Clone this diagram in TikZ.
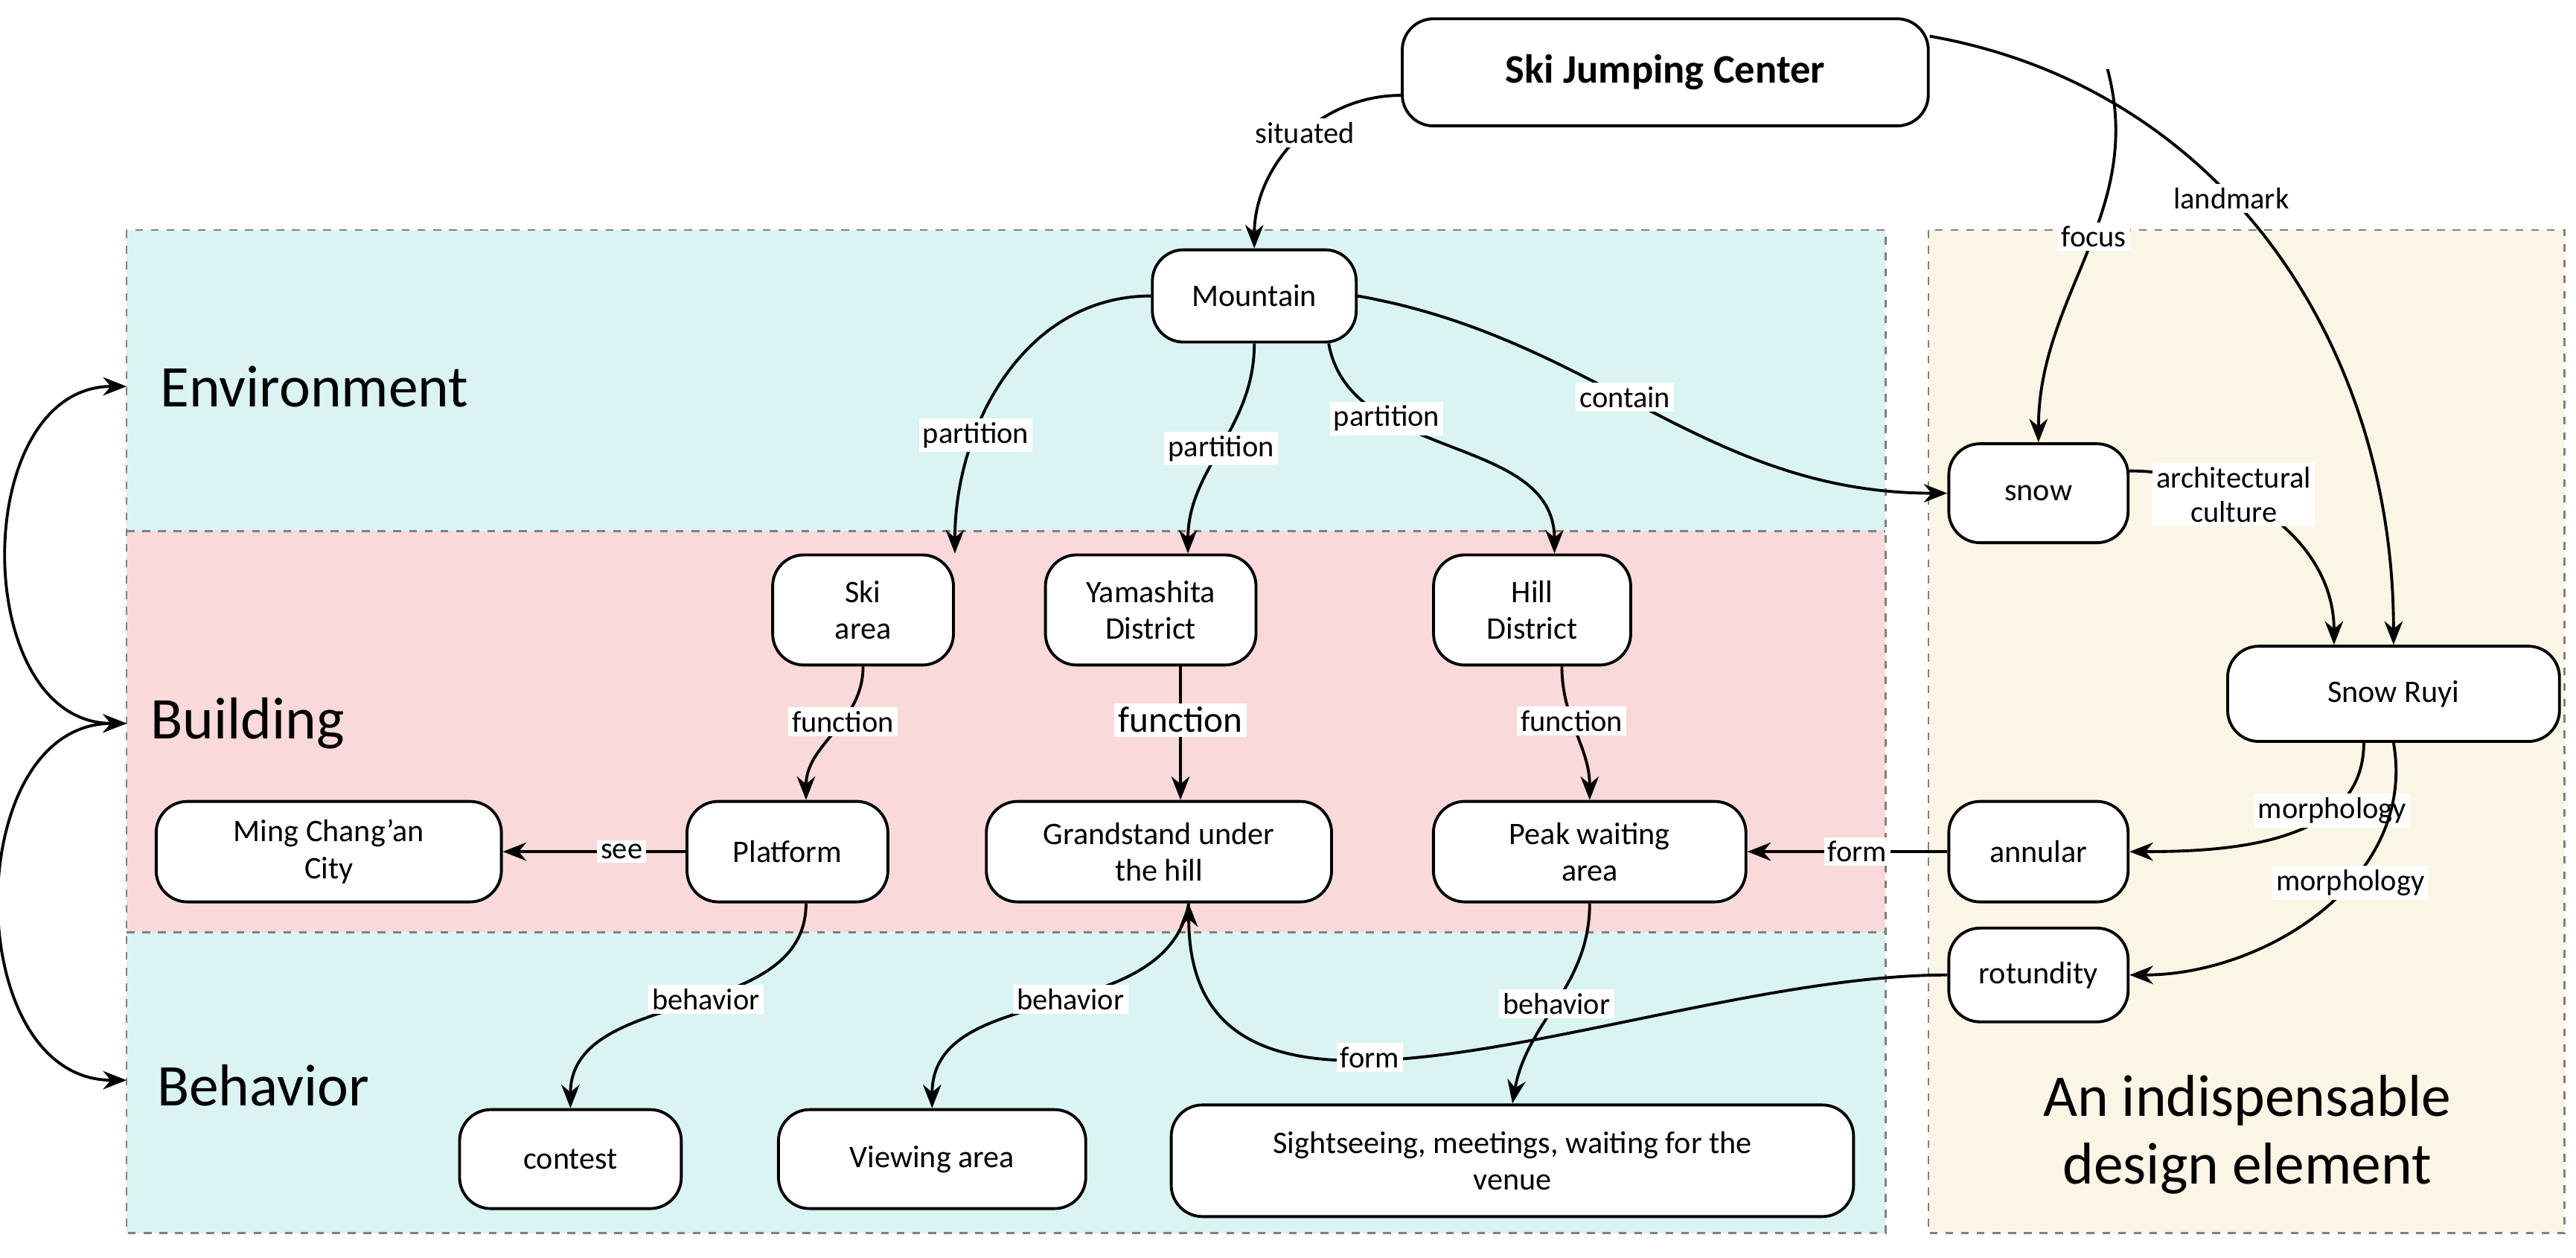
\documentclass[tikz,border=0pt]{standalone}
\usepackage{fontspec}
\setmainfont{Carlito}
\usetikzlibrary{arrows.meta}
\definecolor{cy}{RGB}{218,243,243}
\definecolor{pk}{RGB}{249,217,217}
\definecolor{bg}{RGB}{251,245,230}
\begin{document}
\begin{tikzpicture}[x=0.0221cm,y=-0.0221cm,
 box/.style={draw,line width=1.1pt,rounded corners=0.42cm,fill=white,align=center,font=\fontsize{12}{14}\selectfont,inner sep=1pt},
 lab/.style={fill=white,inner sep=1.5pt,font=\fontsize{11.5}{13}\selectfont,align=center},
 ar/.style={-{Stealth[length=9pt,width=7pt]},line width=1.1pt},
 band/.style={draw=gray,dashed,line width=0.7pt},
 big/.style={font=\fontsize{22.6}{26}\selectfont,align=center}]
\useasboundingbox (0,0) rectangle (1567,765);
\fill[white] (0,0) rectangle (1567,765);
\fill[cy] (77,140) rectangle (1147,323);
\fill[pk] (77,323) rectangle (1147,567);
\fill[cy] (77,567) rectangle (1147,750);
\fill[bg] (1173,140) rectangle (1560,750);
\draw[band] (77,140) rectangle (1147,750);
\draw[band] (77,323) -- (1147,323) (77,567) -- (1147,567);
\draw[band] (1173,140) rectangle (1560,750);
\node[big,anchor=west] (tenv) at (92,235) {Environment};
\node[big,anchor=west] (tbld) at (86,440) {Building};
\node[big,anchor=west] (tbeh) at (90,660) {Behavior};
\node[big] (tdes) at (1367,690) {An indispensable\\design element};
\coordinate (e1) at (77,235);
\coordinate (b1) at (77,440);
\coordinate (h1) at (77,657);
\node[box,minimum width=7.07cm,minimum height=1.44cm,font=\fontsize{15.5}{17}\selectfont\bfseries] (sjc) at (1013,44) {Ski Jumping Center};
\node[box,minimum width=2.74cm,minimum height=1.24cm] (mtn) at (763,180) {Mountain};
\node[box,minimum width=2.43cm,minimum height=1.48cm] (ski) at (525,371) {Ski\\area};
\node[box,minimum width=2.83cm,minimum height=1.48cm] (yam) at (700,371) {Yamashita\\District};
\node[box,minimum width=2.65cm,minimum height=1.48cm] (hill) at (932,371) {Hill\\District};
\node[box,minimum width=4.64cm,minimum height=1.35cm] (ming) at (200,518) {Ming Chang'an\\City};
\node[box,minimum width=2.70cm,minimum height=1.35cm] (plat) at (479,518) {Platform};
\node[box,minimum width=4.64cm,minimum height=1.35cm] (grand) at (705,518) {Grandstand under\\the hill};
\node[box,minimum width=4.20cm,minimum height=1.35cm] (peak) at (967,518) {Peak waiting\\area};
\node[box,minimum width=2.41cm,minimum height=1.33cm] (snow) at (1240,300) {snow};
\node[box,minimum width=4.46cm,minimum height=1.28cm] (ruyi) at (1456,422) {Snow Ruyi};
\node[box,minimum width=2.41cm,minimum height=1.35cm] (ann) at (1240,518) {annular};
\node[box,minimum width=2.41cm,minimum height=1.26cm] (rot) at (1240,593) {rotundity};
\node[box,minimum width=2.98cm,minimum height=1.33cm] (cont) at (347,705) {contest};
\node[box,minimum width=4.13cm,minimum height=1.33cm] (view) at (567,705) {Viewing area};
\node[box,minimum width=9.17cm,minimum height=1.50cm] (sight) at (920,706) {Sightseeing, meetings, waiting for the\\venue};
% edges
\draw[ar] (sjc.west|-0,58) to[out=180,in=90] node[lab,pos=0.45]{situated} (mtn.north);
\draw[ar] (sjc.east|-0,22) to[out=-10,in=90] node[lab,pos=0.42]{landmark} (ruyi.north);
\draw[ar] (1282,42) to[out=-75,in=90] node[lab,pos=0.45]{focus} (snow.north);
\draw[ar] (mtn.west) to[out=180,in=90] node[lab,pos=0.68]{partition} (ski.north east);
\draw[ar] (mtn.south) to[out=-90,in=90] node[lab,pos=0.5]{partition} ([xshift=0.5cm]yam.north);
\draw[ar] ([xshift=1.0cm]mtn.south) to[out=-80,in=90] node[lab,pos=0.3]{partition} ([xshift=0.3cm]hill.north);
\draw[ar] (mtn.east) to[out=-10,in=180] node[lab,pos=0.45]{contain} (snow.west);
\draw[ar] ([yshift=0.3cm]snow.east) to[out=0,in=90] node[lab,pos=0.35]{architectural\\culture} ([xshift=-0.8cm]ruyi.north);
\draw[ar] (ski.south) to[out=-90,in=90] node[lab,pos=0.4]{function} ([xshift=0.25cm]plat.north);
\draw[ar] ([xshift=0.4cm]yam.south) -- node[lab,pos=0.4,font=\fontsize{14}{15}\selectfont]{function} ([xshift=0.4cm]yam.south|-grand.north);
\draw[ar] ([xshift=0.4cm]hill.south) to[out=-90,in=90] node[lab,pos=0.4]{function} (peak.north);
\draw[ar] (plat.west) -- node[lab,pos=0.35]{see} (ming.east);
\draw[ar] (ann.west) -- node[lab,pos=0.45]{form} (peak.east);
\draw[ar] ([xshift=-0.4cm]ruyi.south) to[out=-90,in=0] node[lab,pos=0.3]{morphology} (ann.east);
\draw[ar] (ruyi.south) to[out=-80,in=0] node[lab,pos=0.4]{morphology} (rot.east);
\draw[ar] (rot.west) to[out=180,in=-90] node[lab,pos=0.6]{form} ([xshift=0.4cm]grand.south);
\draw[ar] ([xshift=0.25cm]plat.south) to[out=-90,in=90] node[lab,pos=0.45]{behavior} (cont.north);
\draw[ar] ([xshift=0.4cm]grand.south) to[out=-100,in=90] node[lab,pos=0.45]{behavior} (view.north);
\draw[ar] (peak.south) to[out=-90,in=80] node[lab,pos=0.5]{behavior} (sight.north);
\draw[{Stealth[length=9pt,width=7pt]}-{Stealth[length=9pt,width=7pt]},line width=1.1pt] (e1) to[out=180,in=180,looseness=1.2] (b1);
\draw[{Stealth[length=9pt,width=7pt]}-{Stealth[length=9pt,width=7pt]},line width=1.1pt] (b1) to[out=180,in=180,looseness=1.2] (h1);
\end{tikzpicture}
\end{document}
